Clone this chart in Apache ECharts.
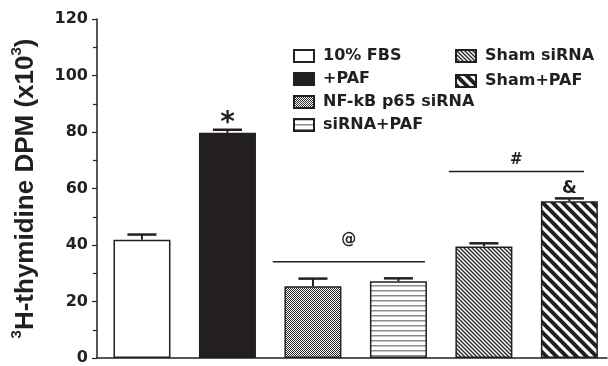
<!DOCTYPE html>
<html>
<head>
<meta charset="utf-8">
<script src="https://cdn.jsdelivr.net/npm/echarts@6/dist/echarts.min.js"></script>
<style>
html, body { margin: 0; padding: 0; background: #fff; }
#chart { width: 608px; height: 366px; }
</style>
</head>
<body>
<div id="chart"></div>
<script>
// Groups, means and upper error-bar ends (DPM x10^3)
const groups = ['10% FBS', '+PAF', 'NF-kB p65 siRNA', 'siRNA+PAF', 'Sham siRNA', 'Sham+PAF'];
const means = [41.9, 79.7, 25.4, 27.2, 39.5, 55.5];
const errTops = [43.7, 80.8, 28.1, 28.2, 40.6, 56.5];

// Significance marks above single bars
const barMarks = ['', '*', '', '', '', '&'];
const barMarkLevels = [0, 84.6, 0, 0, 0, 59.8];

// Significance brackets spanning bar pairs (x in group index units)
const bracketStart = [1.53, 3.59];
const bracketEnd = [3.31, 5.17];
const bracketLevels = [34.1, 66.0];
const bracketMarks = ['@', '#'];
const bracketMarkLevels = [41.6, 70.0];

// Y axis tick labels
const yTicks = [0, 20, 40, 60, 80, 100, 120];

const FONT = 'DejaVu Sans';
const TITLE_FONT = 'Liberation Sans';
const INK = '#231f20';

function makeTile(w, h, draw) {
  const c = document.createElement('canvas');
  c.width = w; c.height = h;
  const g = c.getContext('2d');
  g.fillStyle = '#fff';
  g.fillRect(0, 0, w, h);
  draw(g, w, h);
  return c;
}
function diagTile(size, width, color) {
  return makeTile(size, size, function (g, w, h) {
    g.strokeStyle = color;
    g.lineWidth = width;
    for (let k = -1; k <= 1; k++) {
      g.beginPath();
      g.moveTo(k * w - 2, -2);
      g.lineTo(k * w + w + 2, h + 2);
      g.stroke();
    }
  });
}

const fills = [
  '#ffffff',
  INK,
  { image: makeTile(2, 2, function (g) { g.fillStyle = '#2a2a2a'; g.fillRect(0, 0, 1, 1); g.fillRect(1, 1, 1, 1); }), repeat: 'repeat' },
  { image: makeTile(4, 5, function (g) { g.fillStyle = '#8c8c8c'; g.fillRect(0, 0, 4, 1.5); }), repeat: 'repeat' },
  { image: diagTile(4, 1.4, '#2a2a2a'), repeat: 'repeat' },
  { image: diagTile(10, 4, INK), repeat: 'repeat' }
];

const barSeries = groups.map(function (name, i) {
  return {
    type: 'bar',
    name: name,
    stack: 'groups',
    barWidth: 57,
    data: [[i, means[i]]],
    itemStyle: { color: fills[i], borderColor: INK, borderWidth: 1.5 },
    z: 2
  };
});

const errorSeries = {
  type: 'custom',
  data: groups.map(function (g, i) { return [i, means[i], errTops[i]]; }),
  z: 3,
  renderItem: function (params, api) {
    const p0 = api.coord([api.value(0), api.value(1)]);
    const p1 = api.coord([api.value(0), api.value(2)]);
    const half = 14.5;
    return {
      type: 'group',
      children: [
        { type: 'line', shape: { x1: p0[0], y1: p0[1], x2: p1[0], y2: p1[1] }, style: { stroke: INK, lineWidth: 2 } },
        { type: 'line', shape: { x1: p1[0] - half, y1: p1[1], x2: p1[0] + half, y2: p1[1] }, style: { stroke: INK, lineWidth: 2.5 } }
      ]
    };
  }
};

const barMarkSeries = {
  type: 'custom',
  data: groups.map(function (g, i) { return [i, barMarkLevels[i]]; }),
  z: 4,
  renderItem: function (params, api) {
    const txt = barMarks[params.dataIndex];
    if (!txt) return null;
    const p = api.coord([api.value(0), api.value(1)]);
    const big = txt === '*';
    return {
      type: 'text',
      x: p[0], y: p[1] + (big ? 5 : 0),
      style: {
        text: txt, align: 'center', verticalAlign: 'middle',
        font: 'bold ' + (big ? 28 : 17) + 'px "' + FONT + '"', fill: INK
      }
    };
  }
};

const bracketSeries = {
  type: 'custom',
  data: bracketStart.map(function (s, i) { return [s, bracketEnd[i], bracketLevels[i], bracketMarkLevels[i]]; }),
  z: 4,
  renderItem: function (params, api) {
    const a = api.coord([api.value(0), api.value(2)]);
    const b = api.coord([api.value(1), api.value(2)]);
    const m = api.coord([(api.value(0) + api.value(1)) / 2, api.value(3)]);
    return {
      type: 'group',
      children: [
        { type: 'line', shape: { x1: a[0], y1: a[1], x2: b[0], y2: b[1] }, style: { stroke: INK, lineWidth: 1.5 } },
        { type: 'text', x: m[0], y: m[1], style: { text: bracketMarks[params.dataIndex], align: 'center', verticalAlign: 'middle', font: 'bold 15px "' + FONT + '"', fill: INK } }
      ]
    };
  }
};

const legendText = { fontFamily: FONT, fontWeight: 'bold', fontSize: 16, color: INK, padding: [0, 0, 0, 4] };

const chart = echarts.init(document.getElementById('chart'), null, { renderer: 'canvas' });
chart.setOption({
  animation: false,
  backgroundColor: '#fff',
  grid: { left: 97, right: 1, top: 19, bottom: 7.5 },
  legend: [
    {
      data: groups.slice(0, 4), orient: 'vertical', left: 288, top: 43,
      itemWidth: 20, itemHeight: 12, itemGap: 7, icon: 'rect',
      textStyle: legendText, selectedMode: false
    },
    {
      data: groups.slice(4), orient: 'vertical', left: 450, top: 43,
      itemWidth: 20, itemHeight: 12, itemGap: 9, icon: 'rect',
      textStyle: legendText, selectedMode: false
    }
  ],
  xAxis: {
    type: 'value', min: -0.526, max: 5.44,
    axisLine: { show: true, onZero: false, lineStyle: { color: INK, width: 1.5 } },
    axisTick: { show: false }, axisLabel: { show: false }, splitLine: { show: false }
  },
  yAxis: {
    type: 'value', min: yTicks[0], max: yTicks[yTicks.length - 1], interval: yTicks[1] - yTicks[0],
    name: '{sup|3}{main|H-thymidine DPM (x10}{sup|3}{main|)}',
    nameLocation: 'middle', nameGap: 54, nameRotate: 90,
    nameTextStyle: {
      fontFamily: TITLE_FONT, fontWeight: 'bold', fontSize: 26, color: INK,
      rich: {
        main: { fontFamily: TITLE_FONT, fontWeight: 'bold', fontSize: 26, color: INK, lineHeight: 34, verticalAlign: 'middle' },
        sup: { fontFamily: TITLE_FONT, fontWeight: 'bold', fontSize: 15, color: INK, lineHeight: 15, verticalAlign: 'top' }
      }
    },
    axisLine: { show: true, onZero: false, lineStyle: { color: INK, width: 1.5 } },
    axisTick: { show: true, length: 5, lineStyle: { color: INK, width: 1.2 } },
    minorTick: { show: true, splitNumber: 2, length: 4, lineStyle: { color: INK, width: 1.2 } },
    axisLabel: {
      margin: 9, fontFamily: FONT, fontWeight: 'bold', fontSize: 16, color: INK,
      formatter: function (v) { return yTicks.indexOf(v) >= 0 ? String(v) : ''; }
    },
    splitLine: { show: false }
  },
  series: barSeries.concat([errorSeries, barMarkSeries, bracketSeries])
});
</script>
</body>
</html>
